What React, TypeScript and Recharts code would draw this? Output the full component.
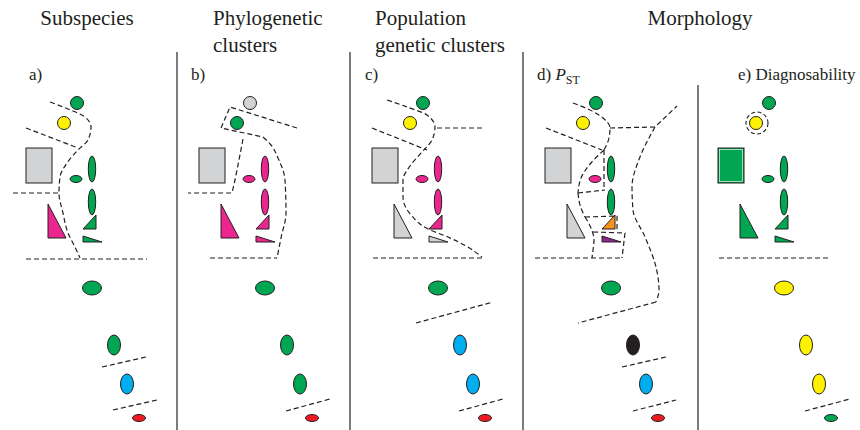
import { ComposedChart, XAxis, YAxis, Scatter, Line } from 'recharts';

const W = 860;
const H = 430;

// horizontal shift of each panel relative to panel a
const PANEL_OFFSETS = [0, 173, 346, 519, 692];

// marks laid out as in panel a (kind, centre x, centre y)
const MARK_KINDS = [
  'circle', 'circle', 'rect', 'smallEllipse', 'tallEllipse', 'tallEllipse',
  'bigTriangle', 'smallTriangle', 'flatTriangle',
  'wideEllipse', 'vertEllipse', 'vertEllipse', 'tinyEllipse',
];
const MARK_X = [77, 64, 39, 76, 92, 92, 57, 89.5, 92.5, 92, 114, 127, 139];
const MARK_Y = [103, 123, 165.5, 179, 169, 202, 221, 222, 239, 288, 345, 384, 418];

// colour of each mark, per panel
const PANEL_A = ['green', 'yellow', 'grey', 'green', 'green', 'green', 'magenta', 'green', 'green', 'green', 'green', 'blue', 'red'];
const PANEL_B = ['grey', 'green', 'grey', 'magenta', 'magenta', 'magenta', 'magenta', 'magenta', 'magenta', 'green', 'green', 'green', 'red'];
const PANEL_C = ['green', 'yellow', 'grey', 'magenta', 'magenta', 'magenta', 'grey', 'magenta', 'grey', 'green', 'blue', 'blue', 'red'];
const PANEL_D = ['green', 'yellow', 'grey', 'magenta', 'green', 'green', 'grey', 'orange', 'purple', 'green', 'black', 'blue', 'red'];
const PANEL_E = ['green', 'yellow', 'green', 'green', 'green', 'green', 'green', 'green', 'green', 'yellow', 'yellow', 'yellow', 'green'];
const PANEL_COLORS = [PANEL_A, PANEL_B, PANEL_C, PANEL_D, PANEL_E];

// dashed circle around the yellow mark in panel e
const RING = [{ x: 757, y: 123 }];

// dashed boundaries
const A_CURVE = [
  { x: 50, y: 102 }, { x: 68, y: 109 }, { x: 85, y: 117 }, { x: 91, y: 127 }, { x: 88, y: 140 },
  { x: 78, y: 150 }, { x: 67, y: 163 }, { x: 60, y: 177 }, { x: 59, y: 193 }, { x: 63, y: 213 },
  { x: 68, y: 233 }, { x: 75, y: 247 }, { x: 80, y: 258 },
];
const A_LINES = [
  [{ x: 26, y: 128 }, { x: 78, y: 148 }],
  [{ x: 13, y: 193 }, { x: 59, y: 193 }],
  [{ x: 26, y: 259 }, { x: 147, y: 259 }],
  [{ x: 102, y: 367 }, { x: 146, y: 357 }],
  [{ x: 113, y: 410 }, { x: 157, y: 400 }],
];
const B_CURVE = [
  { x: 263, y: 137 }, { x: 271, y: 145 }, { x: 278, y: 158 }, { x: 285, y: 180 },
  { x: 286, y: 213 }, { x: 281, y: 238 }, { x: 277, y: 258 },
];
const B_LINES = [
  [{ x: 297, y: 128 }, { x: 230, y: 107 }, { x: 221, y: 128 }, { x: 263, y: 137 }],
  [{ x: 210, y: 258 }, { x: 277, y: 258 }],
  [{ x: 243, y: 139 }, { x: 239, y: 160 }, { x: 235, y: 180 }, { x: 232, y: 193 }, { x: 188, y: 193 }],
  [{ x: 286, y: 411 }, { x: 330, y: 399 }],
];
const C_CURVE = [
  { x: 387, y: 100 }, { x: 407, y: 107 }, { x: 427, y: 115 }, { x: 435, y: 127 }, { x: 432, y: 140 },
  { x: 422, y: 152 }, { x: 410, y: 166 }, { x: 403, y: 180 }, { x: 403, y: 197 }, { x: 412, y: 216 },
  { x: 428, y: 229 }, { x: 448, y: 237 }, { x: 466, y: 246 }, { x: 482, y: 257 },
];
const C_LINES = [
  [{ x: 437, y: 128 }, { x: 482, y: 128 }],
  [{ x: 372, y: 128 }, { x: 427, y: 150 }],
  [{ x: 373, y: 258 }, { x: 482, y: 258 }],
  [{ x: 416, y: 323 }, { x: 493, y: 302 }],
  [{ x: 459, y: 411 }, { x: 503, y: 399 }],
];
const D_CURVES = [
  [{ x: 573, y: 103 }, { x: 590, y: 110 }, { x: 603, y: 118 }, { x: 610, y: 128 }, { x: 609, y: 138 }, { x: 604, y: 150 }],
  [{ x: 604, y: 150 }, { x: 591, y: 163 }, { x: 581, y: 178 }, { x: 578, y: 193 }],
  [{ x: 578, y: 193 }, { x: 580, y: 205 }, { x: 585, y: 217 }],
  [{ x: 585, y: 217 }, { x: 591, y: 228 }, { x: 594, y: 240 }, { x: 593, y: 250 }, { x: 592, y: 258 }],
  [{ x: 655, y: 127 }, { x: 640, y: 157 }, { x: 632, y: 187 }, { x: 633, y: 210 }, { x: 645, y: 237 },
    { x: 656, y: 267 }, { x: 659, y: 290 }, { x: 656, y: 302 }],
];
const D_LINES = [
  [{ x: 604, y: 150 }, { x: 604, y: 190 }],
  [{ x: 578, y: 193 }, { x: 605, y: 190 }],
  [{ x: 585, y: 217 }, { x: 617, y: 216 }, { x: 617, y: 230 }],
  [{ x: 593, y: 232 }, { x: 625, y: 233 }, { x: 622, y: 258 }],
  [{ x: 535, y: 258 }, { x: 622, y: 258 }],
  [{ x: 546, y: 128 }, { x: 602, y: 150 }],
  [{ x: 610, y: 128 }, { x: 655, y: 127 }, { x: 677, y: 106 }],
  [{ x: 656, y: 302 }, { x: 578, y: 323 }],
  [{ x: 622, y: 367 }, { x: 666, y: 357 }],
  [{ x: 633, y: 411 }, { x: 676, y: 400 }],
];
const E_LINES = [
  [{ x: 719, y: 258 }, { x: 828, y: 258 }],
  [{ x: 805, y: 411 }, { x: 850, y: 399 }],
];

// panel separators
const SEPARATORS = [
  [{ x: 177, y: 52 }, { x: 177, y: 430 }],
  [{ x: 350, y: 52 }, { x: 350, y: 430 }],
  [{ x: 523, y: 52 }, { x: 523, y: 430 }],
  [{ x: 698, y: 85 }, { x: 698, y: 430 }],
];

const CURVES = [A_CURVE, B_CURVE, C_CURVE, ...D_CURVES];
const STRAIGHTS = [...A_LINES, ...B_LINES, ...C_LINES, ...D_LINES, ...E_LINES];

const COLORS: Record<string, string> = {
  green: '#00a651',
  yellow: '#fff200',
  grey: '#d1d3d4',
  magenta: '#ec268f',
  blue: '#00aeef',
  red: '#ed1c24',
  orange: '#f7941d',
  purple: '#92278f',
  black: '#231f20',
};
const INK = '#231f20';
const DASH = '5 3';
const FONT = "'Liberation Serif', 'DejaVu Serif', serif";

const marks = PANEL_OFFSETS.flatMap((dx, p) =>
  MARK_KINDS.map((kind, i) => ({ x: MARK_X[i] + dx, y: MARK_Y[i], kind, color: PANEL_COLORS[p][i] }))
);

// eslint-disable-next-line @typescript-eslint/no-explicit-any
const Mark = (props: any) => {
  const { cx, cy, payload } = props;
  const fill = COLORS[payload.color];
  const common = { fill, stroke: INK, strokeWidth: 1 };
  switch (payload.kind) {
    case 'circle':
      return <circle cx={cx} cy={cy} r={6.5} {...common} />;
    case 'rect':
      return (
        <g>
          <rect x={cx - 13} y={cy - 17.5} width={26} height={35} {...common} />
          {payload.color === 'green' && (
            <rect x={cx - 11.5} y={cy - 16} width={23} height={32} fill="none" stroke="#cfe8d6" strokeWidth={0.8} />
          )}
        </g>
      );
    case 'smallEllipse':
      return <ellipse cx={cx} cy={cy} rx={6} ry={3.5} {...common} />;
    case 'tallEllipse':
      return <ellipse cx={cx} cy={cy} rx={3.7} ry={13} {...common} />;
    case 'wideEllipse':
      return <ellipse cx={cx} cy={cy} rx={9.5} ry={7} {...common} />;
    case 'vertEllipse':
      return <ellipse cx={cx} cy={cy} rx={6.5} ry={10} {...common} />;
    case 'tinyEllipse':
      return <ellipse cx={cx} cy={cy} rx={6.5} ry={3.5} {...common} />;
    case 'bigTriangle':
      return <polygon points={`${cx - 9},${cy - 17} ${cx - 9},${cy + 17} ${cx + 9},${cy + 17}`} {...common} />;
    case 'smallTriangle':
      return <polygon points={`${cx - 6.5},${cy + 7} ${cx + 6.5},${cy + 7} ${cx + 6.5},${cy - 7}`} {...common} />;
    case 'flatTriangle':
      return <polygon points={`${cx - 9.5},${cy - 3} ${cx - 9.5},${cy + 3} ${cx + 9.5},${cy + 3}`} {...common} />;
    default:
      return <g />;
  }
};

// eslint-disable-next-line @typescript-eslint/no-explicit-any
const Ring = (props: any) => (
  <circle cx={props.cx} cy={props.cy} r={11} fill="none" stroke={INK} strokeWidth={1.1} strokeDasharray="4 2.5" />
);

const textStyle = { fontFamily: FONT, fill: '#231f20' };

export default function App() {
  return (
    <div style={{ position: 'absolute', left: 0, top: 0, width: W, height: H, background: '#fff' }}>
      <ComposedChart width={W} height={H} margin={{ top: 0, right: 0, bottom: 0, left: 0 }}>
        <XAxis type="number" dataKey="x" domain={[0, W]} hide allowDataOverflow />
        <YAxis type="number" dataKey="y" domain={[0, H]} reversed hide allowDataOverflow />
        {SEPARATORS.map((pts, i) => (
          <Line key={`sep-${i}`} data={pts} dataKey="y" type="linear" stroke="#444" strokeWidth={1.4}
            dot={false} activeDot={false} isAnimationActive={false} />
        ))}
        {CURVES.map((pts, i) => (
          <Line key={`curve-${i}`} data={pts} dataKey="y" type="monotoneY" stroke={INK} strokeWidth={1.2}
            strokeDasharray={DASH} dot={false} activeDot={false} isAnimationActive={false} />
        ))}
        {STRAIGHTS.map((pts, i) => (
          <Line key={`line-${i}`} data={pts} dataKey="y" type="linear" stroke={INK} strokeWidth={1.2}
            strokeDasharray={DASH} dot={false} activeDot={false} isAnimationActive={false} />
        ))}
        <Scatter data={marks} shape={Mark} isAnimationActive={false} />
        <Scatter data={RING} shape={Ring} isAnimationActive={false} />
      </ComposedChart>
      <svg width={W} height={H} style={{ position: 'absolute', left: 0, top: 0, pointerEvents: 'none' }}>
        <g style={{ ...textStyle, fontSize: 21 }}>
          <text x={87} y={25} textAnchor="middle">Subspecies</text>
          <text x={213} y={25}>Phylogenetic</text>
          <text x={213} y={52}>clusters</text>
          <text x={375} y={25}>Population</text>
          <text x={375} y={52}>genetic clusters</text>
          <text x={700} y={25} textAnchor="middle">Morphology</text>
        </g>
        <g style={{ ...textStyle, fontSize: 17 }}>
          <text x={29} y={80}>a)</text>
          <text x={191} y={80}>b)</text>
          <text x={365} y={80}>c)</text>
          <text x={537} y={80}>
            d) <tspan style={{ fontStyle: 'italic' }}>P</tspan>
            <tspan style={{ fontSize: 12 }} dy={4}>ST</tspan>
          </text>
          <text x={738} y={80}>e) Diagnosability</text>
        </g>
      </svg>
    </div>
  );
}
